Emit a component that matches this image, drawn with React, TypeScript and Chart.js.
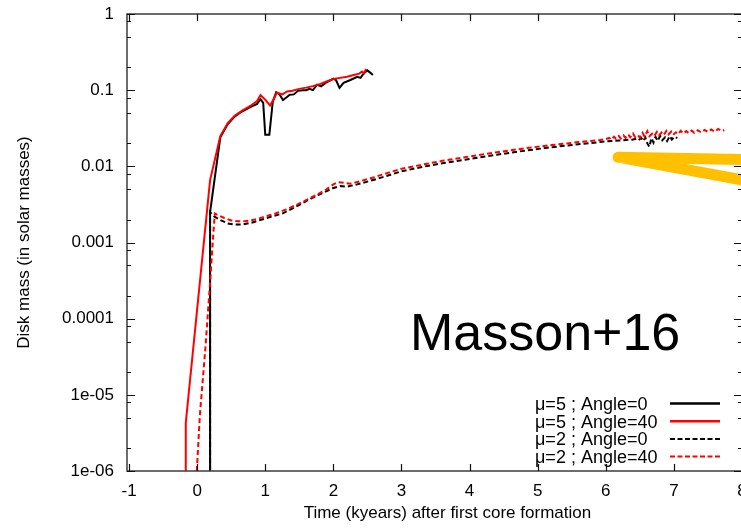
import React, { useEffect, useRef } from "react";
import { Chart, registerables } from "chart.js";

Chart.register(...registerables);

// ---------- data ----------
const seriesLabels = ["μ=5 ; Angle=0", "μ=5 ; Angle=40", "μ=2 ; Angle=0", "μ=2 ; Angle=40"];
const seriesColors = ["#000000", "#ff0000", "#000000", "#ff0000"];
const seriesDashed = [false, false, true, true];

const xTickValues = [-1, 0, 1, 2, 3, 4, 5, 6, 7, 8];
const yTickValues = [1e-6, 1e-5, 1e-4, 1e-3, 1e-2, 1e-1, 1];
const yTickLabels = ["1e-06", "1e-05", "0.0001", "0.001", "0.01", "0.1", "1"];
const yMinorMantissas = [2, 5, 8];

const xTitle = "Time (kyears) after first core formation";
const yTitle = "Disk mass (in solar masses)";
const annotationText = "Masson+16";

// μ=5 ; Angle=0 (black solid)
const mu5a0Time = [0.19, 0.19, 0.34, 0.45, 0.55, 0.65, 0.78, 0.88, 0.93, 0.97, 1.0, 1.06, 1.11, 1.16, 1.21, 1.26, 1.31, 1.36, 1.42, 1.48, 1.55, 1.6, 1.65, 1.7, 1.76, 1.82, 1.9, 2.0, 2.04, 2.09, 2.15, 2.25, 2.35, 2.4, 2.45, 2.5, 2.54, 2.58];
const mu5a0Mass = [1e-6, 0.0025, 0.024, 0.036, 0.045, 0.052, 0.06, 0.066, 0.076, 0.068, 0.026, 0.026, 0.07, 0.094, 0.088, 0.074, 0.08, 0.087, 0.088, 0.098, 0.1, 0.1, 0.104, 0.1, 0.118, 0.112, 0.127, 0.142, 0.135, 0.107, 0.125, 0.136, 0.15, 0.145, 0.168, 0.182, 0.17, 0.158];

// μ=5 ; Angle=40 (red solid)
const mu5a40Time = [-0.167, -0.167, 0.19, 0.34, 0.45, 0.55, 0.65, 0.78, 0.88, 0.93, 1.0, 1.07, 1.12, 1.17, 1.25, 1.32, 1.4, 1.5, 1.6, 1.7, 1.8, 1.9, 2.0, 2.1, 2.2, 2.3, 2.38, 2.42, 2.45, 2.48];
const mu5a40Mass = [1e-6, 4.3e-6, 0.0066, 0.025, 0.037, 0.046, 0.053, 0.062, 0.072, 0.086, 0.075, 0.063, 0.075, 0.093, 0.088, 0.096, 0.098, 0.104, 0.108, 0.113, 0.12, 0.13, 0.14, 0.145, 0.15, 0.158, 0.165, 0.176, 0.166, 0.19];

// μ=2 ; Angle=0 (black dashed)
const mu2a0Time = [0.19, 0.19, 0.25, 0.35, 0.45, 0.55, 0.65, 0.8, 0.95, 1.1, 1.25, 1.4, 1.55, 1.7, 1.85, 2.0, 2.1, 2.2, 2.35, 2.5, 2.7, 3.0, 3.3, 3.6, 4.0, 4.4, 4.8, 5.2, 5.6, 6.0, 6.2, 6.4, 6.45, 6.48, 6.52, 6.55, 6.58, 6.61, 6.64, 6.67, 6.7, 6.73, 6.76, 6.8, 6.83, 6.87, 6.9, 6.94, 6.97, 7.01, 7.05];
const mu2a0Mass = [1e-6, 0.0025, 0.0022, 0.00195, 0.00178, 0.00172, 0.00172, 0.00182, 0.002, 0.0022, 0.0024, 0.0028, 0.0033, 0.0039, 0.0045, 0.0052, 0.0055, 0.0054, 0.0058, 0.0063, 0.0071, 0.0086, 0.0098, 0.011, 0.0125, 0.0142, 0.016, 0.0178, 0.0195, 0.0212, 0.0218, 0.0225, 0.023, 0.022, 0.0235, 0.0215, 0.024, 0.02, 0.018, 0.0235, 0.0205, 0.0245, 0.0215, 0.025, 0.022, 0.024, 0.0215, 0.025, 0.0225, 0.0245, 0.0235];

// μ=2 ; Angle=40 (red dashed)
const mu2a40Time = [-0.005, 0.04, 0.12, 0.19, 0.24, 0.26, 0.3, 0.4, 0.5, 0.6, 0.7, 0.85, 1.0, 1.15, 1.3, 1.45, 1.6, 1.75, 1.9, 2.0, 2.07, 2.15, 2.25, 2.4, 2.6, 2.8, 3.0, 3.3, 3.6, 4.0, 4.4, 4.8, 5.2, 5.6, 5.9, 6.0, 6.05, 6.08, 6.12, 6.15, 6.19, 6.22, 6.26, 6.29, 6.33, 6.36, 6.4, 6.43, 6.47, 6.5, 6.54, 6.57, 6.61, 6.64, 6.68, 6.71, 6.75, 6.78, 6.82, 6.85, 6.89, 6.92, 6.96, 6.99, 7.03, 7.06, 7.1, 7.14, 7.18, 7.22, 7.26, 7.3, 7.35, 7.4, 7.45, 7.5, 7.55, 7.6, 7.65, 7.7, 7.74];
const mu2a40Mass = [1e-6, 5.4e-6, 4e-5, 3e-4, 0.0014, 0.0024, 0.0023, 0.0021, 0.00195, 0.0019, 0.0019, 0.002, 0.0022, 0.0024, 0.0027, 0.0031, 0.0036, 0.0042, 0.005, 0.0058, 0.0062, 0.0061, 0.0059, 0.0064, 0.0072, 0.0082, 0.0093, 0.0105, 0.0118, 0.0135, 0.0153, 0.0172, 0.019, 0.0208, 0.022, 0.0228, 0.0236, 0.0224, 0.0245, 0.023, 0.025, 0.0232, 0.0255, 0.0236, 0.0262, 0.024, 0.027, 0.0243, 0.0258, 0.0238, 0.0275, 0.0245, 0.029, 0.0248, 0.0268, 0.025, 0.0283, 0.0255, 0.0278, 0.0258, 0.0292, 0.0262, 0.0285, 0.026, 0.028, 0.0265, 0.0293, 0.027, 0.029, 0.0272, 0.0295, 0.0275, 0.0298, 0.0278, 0.03, 0.0282, 0.0305, 0.0284, 0.031, 0.029, 0.03];

// yellow arrow annotation (data coordinates)
const arrowTime = [8.05, 6.18, 8.05];
const arrowMass = [0.0123, 0.0132, 0.0065];
const annotationAnchor = { x: 3.125, y: 3.9e-5 };

const seriesTimes = [mu5a0Time, mu5a40Time, mu2a0Time, mu2a40Time];
const seriesMasses = [mu5a0Mass, mu5a40Mass, mu2a0Mass, mu2a40Mass];

const FONT = "'Liberation Sans', Arial, Helvetica, sans-serif";

const zip = (xs: number[], ys: number[]) => xs.map((x, i) => ({ x, y: ys[i] }));

const framePlugin = {
  id: "gnuframe",
  afterDatasetsDraw(chart: any) {
    const { ctx, chartArea: a, scales } = chart;
    const xs = scales.x;
    const ys = scales.y;
    ctx.save();
    ctx.strokeStyle = "#3c3c3c";
    ctx.lineWidth = 1.5;
    ctx.strokeRect(a.left, a.top, a.right - a.left, a.bottom - a.top);
    ctx.strokeStyle = "#111";
    ctx.lineWidth = 1.2;
    ctx.beginPath();
    for (const v of xTickValues) {
      const px = Math.round(xs.getPixelForValue(v)) + 0.5;
      ctx.moveTo(px, a.bottom);
      ctx.lineTo(px, a.bottom - 7);
      ctx.moveTo(px, a.top);
      ctx.lineTo(px, a.top + 7);
    }
    for (const v of yTickValues) {
      const py = Math.round(ys.getPixelForValue(v)) + 0.5;
      ctx.moveTo(a.left, py);
      ctx.lineTo(a.left + 8, py);
      ctx.moveTo(a.right, py);
      ctx.lineTo(a.right - 8, py);
    }
    for (let i = 0; i < yTickValues.length - 1; i++) {
      for (const m of yMinorMantissas) {
        const v = yTickValues[i] * m;
        const py = Math.round(ys.getPixelForValue(v)) + 0.5;
        ctx.moveTo(a.left, py);
        ctx.lineTo(a.left + 4, py);
        ctx.moveTo(a.right, py);
        ctx.lineTo(a.right - 4, py);
      }
    }
    ctx.stroke();
    ctx.restore();
  },
  afterDraw(chart: any) {
    const { ctx, chartArea: a, scales } = chart;
    ctx.save();
    ctx.fillStyle = "#000";
    ctx.font = `17px ${FONT}`;
    ctx.textAlign = "center";
    ctx.textBaseline = "middle";
    ctx.fillText(xTitle, a.left + (a.right - a.left) * 0.521, a.bottom + 42);
    ctx.save();
    ctx.translate(24, (a.top + a.bottom) / 2);
    ctx.rotate(-Math.PI / 2);
    ctx.fillText(yTitle, 0, 0);
    ctx.restore();
    ctx.font = `52px ${FONT}`;
    ctx.textAlign = "left";
    ctx.textBaseline = "alphabetic";
    ctx.fillText(
      annotationText,
      scales.x.getPixelForValue(annotationAnchor.x),
      scales.y.getPixelForValue(annotationAnchor.y)
    );
    ctx.font = `18px ${FONT}`;
    const textX = 535;
    const baseY = 410;
    const rowH = 17.7;
    seriesLabels.forEach((lab, i) => {
      const by = baseY + i * rowH;
      ctx.fillStyle = "#000";
      ctx.fillText(lab, textX, by);
      ctx.beginPath();
      ctx.strokeStyle = seriesColors[i];
      ctx.lineWidth = seriesDashed[i] ? 2 : 2.5;
      ctx.setLineDash(seriesDashed[i] ? [5, 2.5] : []);
      ctx.moveTo(670, by - 6.5);
      ctx.lineTo(720, by - 6.5);
      ctx.stroke();
    });
    ctx.setLineDash([]);
    ctx.restore();
  },
};

export default function App() {
  const ref = useRef<HTMLCanvasElement | null>(null);

  useEffect(() => {
    if (!ref.current) return;
    const datasets: any[] = seriesLabels.map((label, i) => ({
      label,
      data: zip(seriesTimes[i], seriesMasses[i]),
      borderColor: seriesColors[i],
      borderWidth: 2,
      borderDash: seriesDashed[i] ? [5, 3] : [],
      pointRadius: 0,
      tension: 0,
      fill: false,
      order: 4 - i,
    }));
    datasets.push({
      label: "arrow",
      data: zip(arrowTime, arrowMass),
      borderColor: "#FFC000",
      borderWidth: 11,
      borderCapStyle: "round",
      borderJoinStyle: "round",
      pointRadius: 0,
      tension: 0,
      fill: false,
      order: 0,
    });

    const chart = new Chart(ref.current, {
      type: "line",
      data: { datasets },
      options: {
        animation: false,
        responsive: false,
        devicePixelRatio: 1,
        layout: { padding: { left: 0, right: 18, top: 14, bottom: 0 } },
        plugins: {
          legend: { display: false },
          tooltip: { enabled: false },
          title: { display: false },
        },
        scales: {
          x: {
            type: "linear",
            min: -1.03,
            max: 8,
            afterBuildTicks: (s: any) => {
              s.ticks = xTickValues.map((v) => ({ value: v }));
            },
            afterFit: (s: any) => {
              s.height = 57;
              s.paddingLeft = 0;
              s.paddingRight = 0;
            },
            grid: { display: false, drawTicks: false },
            border: { display: false },
            ticks: {
              padding: 10,
              color: "#000",
              font: { family: FONT, size: 17 },
              maxRotation: 0,
              autoSkip: false,
              callback: (v: any) => String(v),
            },
          },
          y: {
            type: "logarithmic",
            min: 1e-6,
            max: 1,
            afterBuildTicks: (s: any) => {
              s.ticks = yTickValues.map((v) => ({ value: v, major: true }));
            },
            afterFit: (s: any) => {
              s.width = 127;
              s.paddingTop = 0;
              s.paddingBottom = 0;
            },
            grid: { display: false, drawTicks: false },
            border: { display: false },
            ticks: {
              padding: 13,
              color: "#000",
              font: { family: FONT, size: 17 },
              autoSkip: false,
              callback: (v: any) => {
                const idx = yTickValues.findIndex((t) => Math.abs(Math.log10(t) - Math.log10(Number(v))) < 1e-6);
                return idx >= 0 ? yTickLabels[idx] : "";
              },
            },
          },
        },
      },
      plugins: [framePlugin],
    } as any);
    return () => chart.destroy();
  }, []);

  return (
    <div
      style={{
        position: "fixed",
        left: 0,
        top: 0,
        width: 741,
        height: 528,
        overflow: "hidden",
        background: "#fff",
      }}
    >
      <canvas ref={ref} width={760} height={528} style={{ display: "block", width: 760, height: 528 }} />
    </div>
  );
}
